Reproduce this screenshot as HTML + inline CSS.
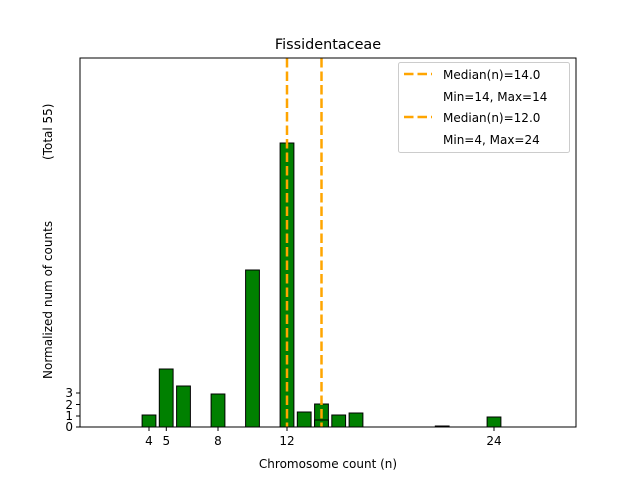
<!DOCTYPE html>
<html><head><meta charset="utf-8"><style>body{margin:0;background:#fff}svg{display:block}text{font-family:"DejaVu Sans","Liberation Sans",sans-serif}</style></head>
<body>
<svg width="640" height="480" viewBox="0 0 640 480" xmlns="http://www.w3.org/2000/svg">
<rect width="640" height="480" fill="#fff"/>
<g fill="#008000" stroke="#000" stroke-width="1">
<rect x="142.1" y="415" width="13.8" height="12"/>
<rect x="159.3" y="369" width="13.8" height="58"/>
<rect x="176.6" y="386" width="13.8" height="41"/>
<rect x="211.1" y="394" width="13.8" height="33"/>
<rect x="245.6" y="270" width="13.8" height="157"/>
<rect x="280.1" y="143" width="13.8" height="284"/>
<rect x="297.3" y="412" width="13.8" height="15"/>
<rect x="314.6" y="404" width="13.8" height="23"/>
<rect x="314.6" y="420" width="13.8" height="7"/>
<rect x="331.8" y="415" width="13.8" height="12"/>
<rect x="349.1" y="413" width="13.8" height="14"/>
<rect x="435.3" y="426" width="13.8" height="1"/>
<rect x="487.1" y="417" width="13.8" height="10"/>
</g>
<g stroke="#ffa500" stroke-width="2.5" stroke-dasharray="9.5,4">
<line x1="287" y1="58" x2="287" y2="427"/>
<line x1="321.5" y1="58" x2="321.5" y2="427"/>
</g>
<rect x="80" y="58" width="496" height="369" fill="none" stroke="#000" stroke-width="1"/>
<g stroke="#000" stroke-width="1">
<line x1="149" y1="427" x2="149" y2="431"/><line x1="166.3" y1="427" x2="166.3" y2="431"/>
<line x1="218" y1="427" x2="218" y2="431"/><line x1="287" y1="427" x2="287" y2="431"/>
<line x1="494" y1="427" x2="494" y2="431"/>
<line x1="76" y1="427" x2="80" y2="427"/><line x1="76" y1="416" x2="80" y2="416"/>
<line x1="76" y1="404.5" x2="80" y2="404.5"/><line x1="76" y1="393" x2="80" y2="393"/>
</g>
<g font-size="12" fill="#000" text-anchor="middle">
<text x="149" y="445">4</text><text x="166.3" y="445">5</text><text x="218" y="445">8</text>
<text x="287" y="445">12</text><text x="494" y="445">24</text>
</g>
<g font-size="12" fill="#000" text-anchor="end">
<text x="73" y="431">0</text><text x="73" y="420">1</text><text x="73" y="409">2</text><text x="73" y="397">3</text>
</g>
<text x="328" y="468" font-size="12" text-anchor="middle">Chromosome count (n)</text>
<text transform="translate(52,379) rotate(-90)" font-size="12">Normalized num of counts</text>
<text transform="translate(52,160) rotate(-90)" font-size="12">(Total 55)</text>
<text x="328" y="49" font-size="14.4" text-anchor="middle">Fissidentaceae</text>
<rect x="398.5" y="62.5" width="171" height="90" rx="2" fill="#fff" fill-opacity="0.8" stroke="#ccc"/>
<g stroke="#ffa500" stroke-width="2.5" stroke-dasharray="9.5,4">
<line x1="404" y1="74" x2="432" y2="74"/><line x1="404" y1="117" x2="432" y2="117"/>
</g>
<g font-size="12" fill="#000">
<text x="443" y="79">Median(n)=14.0</text>
<text x="443" y="101">Min=14, Max=14</text>
<text x="443" y="122">Median(n)=12.0</text>
<text x="443" y="144">Min=4, Max=24</text>
</g>
</svg>
</body></html>
